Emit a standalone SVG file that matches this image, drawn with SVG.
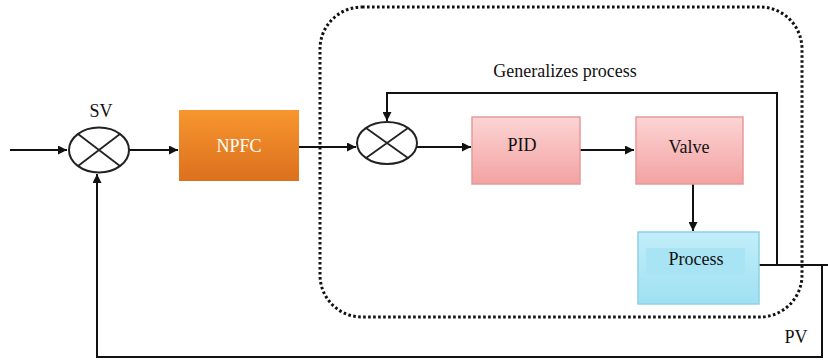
<svg xmlns="http://www.w3.org/2000/svg" width="828" height="360" viewBox="0 0 828 360">
<style>
text{font-family:'Liberation Serif','Times New Roman','DejaVu Serif',serif;font-size:18px;fill:#111;text-anchor:middle}
.w{fill:#fff}
.ln{fill:none;stroke:#111;stroke-width:2}
.sum{fill:#fff;stroke:#222;stroke-width:2}
.x{stroke:#222;stroke-width:1.8}
.dot{fill:none;stroke:#111;stroke-width:3;stroke-dasharray:2.6 2.4}
</style>
<defs>
<marker id="ah" viewBox="0 0 10 10" refX="10" refY="5" markerWidth="9" markerHeight="9" markerUnits="userSpaceOnUse" orient="auto">
<path d="M0,0 L10,5 L0,10 z" fill="#111"/>
</marker>
<linearGradient id="gO" x1="0" y1="0" x2="0" y2="1"><stop offset="0" stop-color="#f7962e"/><stop offset="1" stop-color="#dc701e"/></linearGradient>
<linearGradient id="gP" x1="0" y1="0" x2="0" y2="1"><stop offset="0" stop-color="#fcd4d4"/><stop offset="1" stop-color="#f3a2a2"/></linearGradient>
<linearGradient id="gB" x1="0" y1="0" x2="0" y2="1"><stop offset="0" stop-color="#c2eef9"/><stop offset="1" stop-color="#9fe0f3"/></linearGradient>
</defs>
<g font-family="Liberation Serif, Times New Roman, serif">
<rect class="dot" x="320" y="7" width="482" height="310" rx="42"/>
<text x="565" y="77">Generalizes process</text>
<g id="connectors">
<path class="ln" d="M10,150 H67" marker-end="url(#ah)"/>
<path class="ln" d="M129,150 H178" marker-end="url(#ah)"/>
<path class="ln" d="M299,147 H356" marker-end="url(#ah)"/>
<path class="ln" d="M417,147 H471" marker-end="url(#ah)"/>
<path class="ln" d="M580,150 H634" marker-end="url(#ah)"/>
<path class="ln" d="M693,184 V231" marker-end="url(#ah)"/>
<path class="ln" d="M777,265 V93 H387 V121" marker-end="url(#ah)"/>
<path class="ln" d="M759,265 H828"/>
<path class="ln" d="M822,265 V357 H97 V174" marker-end="url(#ah)"/>
</g>
<g id="sv">
<ellipse class="sum" cx="99" cy="150" rx="30" ry="22.5"/>
<path class="x" d="M78,134 L120,166 M78,166 L120,134"/>
<text x="101" y="117">SV</text>
</g>
<g id="npfc">
<rect x="179" y="110" width="120" height="71" fill="url(#gO)"/>
<text class="w" x="239" y="152">NPFC</text>
</g>
<g id="sum2">
<ellipse class="sum" cx="387" cy="143" rx="30" ry="21"/>
<path class="x" d="M366,128 L408,158 M366,158 L408,128"/>
</g>
<g id="pid">
<rect x="472" y="117" width="108" height="67" fill="url(#gP)" stroke="#e59a9a" stroke-width="1.5"/>
<text x="522" y="151">PID</text>
</g>
<g id="valve">
<rect x="636" y="117" width="107" height="67" fill="url(#gP)" stroke="#e59a9a" stroke-width="1.5"/>
<text x="689" y="153">Valve</text>
</g>
<g id="process">
<rect x="638" y="232" width="121" height="72" fill="url(#gB)" stroke="#8fd0e6" stroke-width="1.5"/>
<rect x="646" y="248" width="99" height="26" fill="#a8e4f4"/>
<text x="696" y="265">Process</text>
</g>
<text x="796" y="343">PV</text>
</g>
</svg>
